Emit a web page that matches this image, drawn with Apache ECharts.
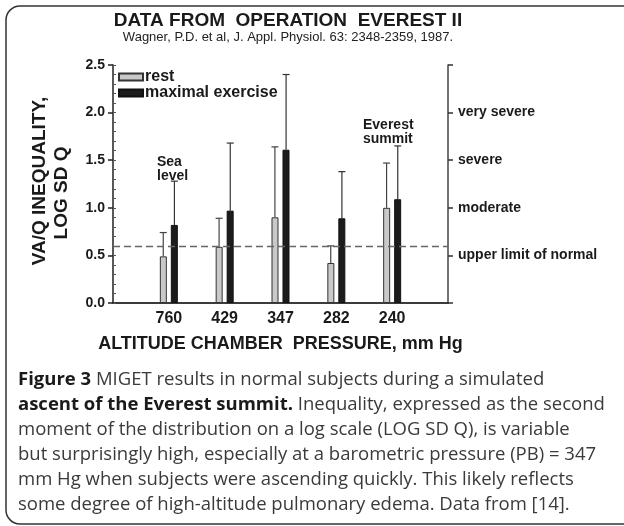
<!DOCTYPE html>
<html>
<head>
<meta charset="utf-8">
<script src="https://cdn.jsdelivr.net/npm/echarts@6/dist/echarts.min.js"></script>
<style>
  html, body { margin: 0; padding: 0; background: #fff; }
  #chart { width: 624px; height: 526px; }
</style>
</head>
<body>
<div id="chart"></div>
<script>
// pressures (mm Hg); empty slots at both ends keep the spacing of the original
const pressures = ['', '760', '429', '347', '282', '240', ''];
const restMean = [null, 0.49, 0.59, 0.90, 0.42, 1.00, null];
const restUpper = [null, 0.74, 0.89, 1.64, 0.60, 1.47, null];
const exMean = [null, 0.82, 0.97, 1.61, 0.89, 1.09, null];
const exUpper = [null, 1.28, 1.68, 2.40, 1.38, 1.65, null];
const normalLimit = 0.6;
const severityTicks = { '0.5': 'upper limit of normal', '1.0': 'moderate', '1.5': 'severe', '2.0': 'very severe' };

const font = '"Liberation Sans", Arial, sans-serif';
const capFont = '"Open Sans", sans-serif';

function errData(mean, upper) {
  const out = [];
  mean.forEach((m, i) => { if (m != null) out.push([i, m, upper[i]]); });
  return out;
}

function errBar(side, color) {
  return function (params, api) {
    const band = api.size([1, 0])[0];
    const off = side * band * 0.1;
    const lo = api.coord([api.value(0), api.value(1)]);
    const hi = api.coord([api.value(0), api.value(2)]);
    const x = lo[0] + off;
    const style = { stroke: color, lineWidth: 1.2 };
    return {
      type: 'group',
      children: [
        { type: 'line', shape: { x1: x, y1: lo[1], x2: x, y2: hi[1] }, style: style },
        { type: 'line', shape: { x1: x - 3.5, y1: hi[1], x2: x + 3.5, y2: hi[1] }, style: style }
      ]
    };
  };
}

const chart = echarts.init(document.getElementById('chart'));
chart.setOption({
  animation: false,
  textStyle: { fontFamily: font },
  title: {
    text: 'DATA FROM  OPERATION  EVEREST II',
    subtext: 'Wagner, P.D. et al, J. Appl. Physiol. 63: 2348-2359, 1987.',
    left: 283, top: 6, textAlign: 'center', itemGap: 1,
    textStyle: { fontFamily: font, fontSize: 19, fontWeight: 'bold', color: '#1a1a1a' },
    subtextStyle: { fontFamily: font, fontSize: 13, color: '#222' }
  },
  legend: {
    orient: 'vertical', left: 113, top: 64, itemGap: 0,
    itemWidth: 24, itemHeight: 7, icon: 'rect',
    textStyle: { fontFamily: font, fontSize: 16, fontWeight: 'bold', color: '#1a1a1a', padding: [0, 0, 0, -3] },
    data: ['rest', 'maximal exercise']
  },
  grid: { left: 113, right: 176, top: 65, bottom: 223 },
  xAxis: [
    {
      type: 'category', data: pressures, boundaryGap: false,
      axisLine: { lineStyle: { color: '#222', width: 1.5 } },
      axisTick: { show: false },
      axisLabel: { fontFamily: font, fontSize: 16, fontWeight: 'bold', color: '#1a1a1a', margin: 8 },
      name: 'ALTITUDE CHAMBER  PRESSURE, mm Hg', nameLocation: 'middle', nameGap: 32,
      nameTextStyle: { fontFamily: font, fontSize: 18, fontWeight: 'bold', color: '#1a1a1a' }
    },
    {
      type: 'category', data: pressures, boundaryGap: false, position: 'top',
      axisLine: { lineStyle: { color: '#333', width: 1.5 } },
      axisTick: { show: false }, axisLabel: { show: false }
    }
  ],
  yAxis: [
    {
      type: 'value', min: 0, max: 2.5, interval: 0.5, position: 'left',
      axisLine: { show: true, lineStyle: { color: '#222', width: 1.5 } },
      axisTick: { show: true, length: 5, lineStyle: { color: '#222', width: 1.5 } },
      axisLabel: { fontFamily: font, fontSize: 14, fontWeight: 'bold', color: '#1a1a1a', margin: 8,
        formatter: v => v.toFixed(1) },
      splitLine: { show: false }
    },
    {
      type: 'value', min: 0, max: 2.5, interval: 0.1, position: 'left',
      axisLine: { show: false },
      axisTick: { show: true, inside: true, length: 3, lineStyle: { color: '#555', width: 1 } },
      axisLabel: { show: false }, splitLine: { show: false }
    },
    {
      type: 'value', min: 0, max: 2.5, interval: 0.5, position: 'right',
      axisLine: { show: true, lineStyle: { color: '#444', width: 1.5 } },
      axisTick: { show: true, length: 5, lineStyle: { color: '#333', width: 1.5 } },
      axisLabel: { fontFamily: font, fontSize: 14, fontWeight: 'bold', color: '#1a1a1a', margin: 10,
        formatter: v => severityTicks[v.toFixed(1)] || '' },
      splitLine: { show: false }
    }
  ],
  series: [
    {
      name: 'rest', type: 'bar', data: restMean, barWidth: 7, barGap: '57%',
      itemStyle: { color: '#c9c9c9', borderColor: '#333', borderWidth: 1 },
      markLine: {
        silent: true, symbol: 'none', label: { show: false },
        lineStyle: { color: '#666', type: [7, 4], width: 1.3 },
        data: [{ yAxis: normalLimit }]
      }
    },
    {
      name: 'maximal exercise', type: 'bar', data: exMean, barWidth: 7,
      itemStyle: { color: '#1c1c1c', borderColor: '#111', borderWidth: 1 }
    },
    {
      type: 'custom', renderItem: errBar(-1, '#444'), data: errData(restMean, restUpper),
      encode: { x: 0, y: [1, 2] }, z: 1
    },
    {
      type: 'custom', renderItem: errBar(1, '#333'), data: errData(exMean, exUpper),
      encode: { x: 0, y: [1, 2] }, z: 1
    }
  ],
  graphic: [
    {
      type: 'rect', shape: { x: 6, y: 6, width: 640, height: 518, r: 14 },
      style: { fill: 'none', stroke: '#333', lineWidth: 1.5 }, silent: true
    },
    {
      type: 'text', x: 40, y: 181, rotation: Math.PI / 2,
      style: { text: 'VA/Q INEQUALITY,', fontFamily: font, fontSize: 19, fontWeight: 'bold',
        fill: '#1a1a1a', align: 'center', verticalAlign: 'middle' }
    },
    {
      type: 'text', x: 62, y: 193, rotation: Math.PI / 2,
      style: { text: 'LOG SD Q', fontFamily: font, fontSize: 19, fontWeight: 'bold',
        fill: '#1a1a1a', align: 'center', verticalAlign: 'middle' }
    },
    {
      type: 'text', x: 157, y: 155,
      style: { text: 'Sea\nlevel', fontFamily: font, fontSize: 14, fontWeight: 'bold', fill: '#1a1a1a', lineHeight: 14 }
    },
    {
      type: 'text', x: 363, y: 118,
      style: { text: 'Everest\nsummit', fontFamily: font, fontSize: 14, fontWeight: 'bold', fill: '#1a1a1a', lineHeight: 14 }
    },
    {
      type: 'text', x: 18, y: 367,
      style: {
        text: '{b|Figure 3} MIGET results in normal subjects during a simulated\n' +
          '{b|ascent of the Everest summit.} Inequality, expressed as the second\n' +
          'moment of the distribution on a log scale (LOG SD Q), is variable\n' +
          'but surprisingly high, especially at a barometric pressure (PB) = 347\n' +
          'mm Hg when subjects were ascending quickly. This likely reflects\n' +
          'some degree of high-altitude pulmonary edema. Data from [14].',
        fontFamily: capFont, fontSize: 18.5, fill: '#3a3a3a', lineHeight: 25,
        rich: {
          b: { fontFamily: capFont, fontSize: 18.5, fontWeight: 'bold', fill: '#1a1a1a', lineHeight: 25 }
        }
      }
    }
  ]
});
</script>
</body>
</html>
